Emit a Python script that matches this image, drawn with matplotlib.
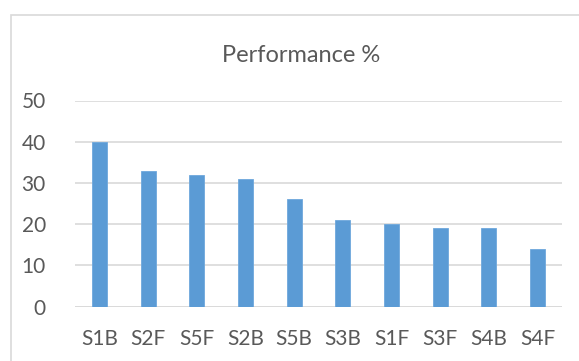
import matplotlib
matplotlib.use("Agg")
import matplotlib.pyplot as plt
from matplotlib.patches import Rectangle

# Data
categories = ["S1B", "S2F", "S5F", "S2B", "S5B", "S3B", "S1F", "S3F", "S4B", "S4F"]
performance = [40, 33, 32, 31, 26, 21, 20, 19, 19, 14]
y_ticks = [0, 10, 20, 30, 40, 50]
title = "Performance %"

W, H = 579, 361
plt.rcParams["font.family"] = ["Lato", "DejaVu Sans"]
text_color = "#595959"
grid_color = "#D9D9D9"
bar_color = "#5B9BD5"

fig = plt.figure(figsize=(W / 100, H / 100), dpi=100)
fig.patch.set_facecolor("white")

# Chart frame (extends past the right and bottom edges)
fig.patches.append(Rectangle((11 / W, -0.1), 1.2, 1 - 15 / H + 0.1,
                             transform=fig.transFigure, fill=False,
                             edgecolor=grid_color, linewidth=1.2, zorder=0))

ax = fig.add_axes([75 / W, 1 - 306.7 / H, (562 - 75) / W, (306.7 - 100.5) / H])
x = range(len(categories))
ax.bar(x, performance, width=0.31, color=bar_color, edgecolor="#6FA8DC",
       linewidth=0.6, zorder=3)

ax.set_xlim(-0.5, len(categories) - 0.5)
ax.set_ylim(0, 50)
ax.set_yticks(y_ticks)
ax.set_xticks(list(x))
ax.set_xticklabels(categories)

for s in ax.spines.values():
    s.set_visible(False)
ax.yaxis.grid(True, color=grid_color, linewidth=1.2, zorder=0)
ax.axhline(0, color=grid_color, linewidth=1.2, zorder=2)
ax.tick_params(axis="both", length=0, labelsize=15, colors=text_color)
ax.tick_params(axis="y", pad=21)
ax.tick_params(axis="x", pad=16)
ax.set_facecolor("none")

fig.text(301.5 / W, 1 - 62 / H, title, ha="center", va="baseline",
         fontsize=17, color=text_color)

fig.savefig("out.png", dpi=100)
